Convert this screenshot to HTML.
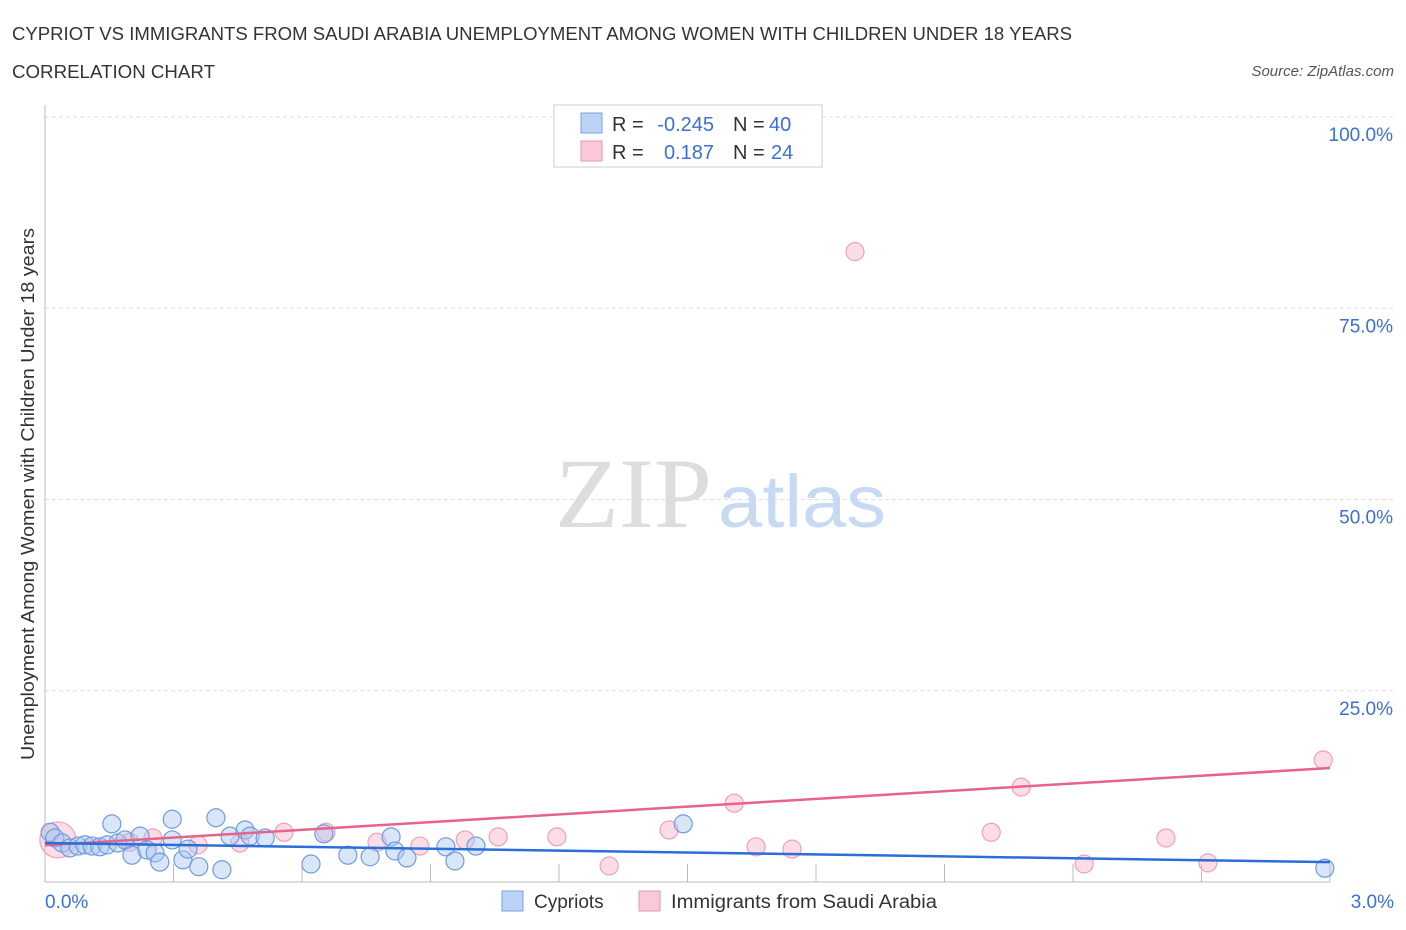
<!DOCTYPE html>
<html><head><meta charset="utf-8"><style>
body{margin:0;background:#fff;font-family:"Liberation Sans",sans-serif;}
svg{display:block}
</style></head><body>
<svg id="chart" width="1406" height="930" xmlns="http://www.w3.org/2000/svg">
<text x="12" y="40" font-size="18" fill="#333" textLength="1060" lengthAdjust="spacingAndGlyphs">CYPRIOT VS IMMIGRANTS FROM SAUDI ARABIA UNEMPLOYMENT AMONG WOMEN WITH CHILDREN UNDER 18 YEARS</text>
<text x="12" y="78" font-size="18" fill="#333" textLength="203" lengthAdjust="spacingAndGlyphs">CORRELATION CHART</text>
<text x="1394" y="76" font-size="15" fill="#555" font-style="italic" text-anchor="end">Source: ZipAtlas.com</text>
<g id="grid"></g>
<text x="555" y="527" font-size="100" fill="#ddd" font-family="Liberation Serif,serif" textLength="157" lengthAdjust="spacingAndGlyphs">ZIP</text>
<text x="718" y="527" font-size="74" fill="#c8daf2" textLength="168" lengthAdjust="spacingAndGlyphs">atlas</text>
<g id="points"></g>
<g id="lines"></g>
<text x="34" y="494" font-size="18" fill="#333" text-anchor="middle" textLength="532" lengthAdjust="spacingAndGlyphs" transform="rotate(-90 34 494)">Unemployment Among Women with Children Under 18 years</text>
<text x="45" y="908" font-size="19" fill="#3b6fd4">0.0%</text>
<text x="1394" y="908" font-size="19" fill="#3b6fd4" text-anchor="end">3.0%</text>
<g>
<rect x="554" y="105" width="268" height="62" fill="#fff" stroke="#ccc"/>
<rect x="581" y="113" width="21" height="20" fill="#bcd3f5" stroke="#7aa3e5"/>
<rect x="581" y="141" width="21" height="20" fill="#fac8d6" stroke="#ee94ae"/>
<text x="612" y="131" font-size="20" fill="#333">R = </text><text x="714" y="131" font-size="20" fill="#3b6fd4" text-anchor="end">-0.245</text>
<text x="733" y="131" font-size="20" fill="#333">N = </text><text x="769" y="131" font-size="20" fill="#3b6fd4">40</text>
<text x="612" y="159" font-size="20" fill="#333">R = </text><text x="714" y="159" font-size="20" fill="#3b6fd4" text-anchor="end">0.187</text>
<text x="733" y="159" font-size="20" fill="#333">N = </text><text x="771" y="159" font-size="20" fill="#3b6fd4">24</text>
</g>
<g>
<rect x="502" y="891" width="21" height="20" fill="#bcd3f5" stroke="#7aa3e5"/>
<text x="534" y="908" font-size="19" fill="#333">Cypriots</text>
<rect x="639" y="891" width="21" height="20" fill="#fac8d6" stroke="#ee94ae"/>
<text x="671" y="908" font-size="19" fill="#333" textLength="266" lengthAdjust="spacingAndGlyphs">Immigrants from Saudi Arabia</text>
</g>
</svg>
<script>
const yTicks=[25,50,75,100];
const yTickLabels=["25.0%","50.0%","75.0%","100.0%"];
const xTicks=[0.3,0.6,0.9,1.2,1.5,1.8,2.1,2.4,2.7,3.0];
const blueX=[.012,.023,.040,.058,.077,.093,.110,.128,.145,.156,.170,.187,.203,.222,.238,.257,.268,.297,.297,.322,.334,.359,.399,.413,.432,.467,.479,.514,.621,.651,.707,.759,.808,.817,.845,.936,.957,1.006,1.490,2.988];
const blueY=[6.5,5.75,5.1,4.45,4.7,4.85,4.7,4.6,4.85,7.6,5.1,5.5,3.5,6.0,4.2,3.8,2.6,8.2,5.5,2.9,4.3,2.0,8.4,1.6,6.0,6.8,6.0,5.75,2.35,6.3,3.5,3.3,5.9,4.05,3.15,4.6,2.75,4.7,7.6,1.8];
const pinkX=[.030,.198,.252,.357,.455,.558,.656,.775,.875,.981,1.058,1.195,1.317,1.457,1.609,1.660,1.744,1.891,2.209,2.279,2.426,2.617,2.715,2.984];
const pinkY=[5.5,5.2,5.75,4.85,5.1,6.5,6.5,5.2,4.7,5.5,5.9,5.9,2.1,6.8,10.3,4.6,4.3,82.4,6.5,12.4,2.35,5.75,2.5,15.95];
const blueTrend=[5.1,2.6];
const pinkTrend=[4.8,14.9];
const NS="http://www.w3.org/2000/svg";
const X0=45,X1=1330,Y0=882,Y100=117;
const sx=v=>X0+(v/3)*(X1-X0);
const sy=v=>Y0-(v/100)*(Y0-Y100);
function mk(tag,attrs,parent){const e=document.createElementNS(NS,tag);for(const k in attrs)e.setAttribute(k,attrs[k]);parent.appendChild(e);return e;}
const grid=document.getElementById('grid');
yTicks.forEach((t,i)=>{
 const l=mk('line',{x1:X0,x2:1394,y1:sy(t),y2:sy(t),stroke:'#ddd','stroke-dasharray':'4,3'},grid);
 
 
 const tx=mk('text',{x:1393,y:sy(t)+24,'font-size':19,fill:'#3b6fd4','text-anchor':'end'},grid);
 tx.textContent=yTickLabels[i];
 
 
});
const ax=mk('line',{x1:X0,x2:X0,y1:105,y2:Y0,stroke:'#bbb'},grid);


const bx=mk('line',{x1:X0,x2:X1,y1:Y0,y2:Y0,stroke:'#bbb'},grid);


xTicks.forEach(t=>{
 const l=mk('line',{x1:sx(t),x2:sx(t),y1:Y0-18,y2:Y0,stroke:'#bbb'},grid);
 
 
});
const pts=document.getElementById('points');
pinkX.forEach((x,i)=>{
 const c=mk('circle',{cx:sx(x),cy:sy(pinkY[i]),r:i===0?18:9,fill:'rgba(248,180,200,0.45)',stroke:'#f0a0b8','stroke-width':1.2},pts);
 
 
});
blueX.forEach((x,i)=>{
 const c=mk('circle',{cx:sx(x),cy:sy(blueY[i]),r:9,fill:'rgba(170,200,240,0.45)',stroke:'#6f9be0','stroke-width':1.2},pts);
 
 
});
const ln=document.getElementById('lines');
const pl=mk('line',{x1:sx(0),y1:sy(pinkTrend[0]),x2:sx(3),y2:sy(pinkTrend[1]),stroke:'#e8628e','stroke-width':2.5},ln);


const bl=mk('line',{x1:sx(0),y1:sy(blueTrend[0]),x2:sx(3),y2:sy(blueTrend[1]),stroke:'#2a6ed8','stroke-width':2.5},ln);


</script>
</body></html>
